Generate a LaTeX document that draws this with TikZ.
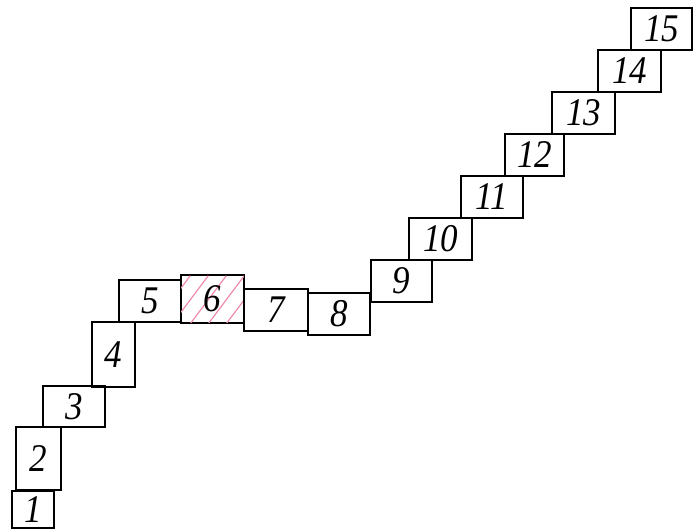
\documentclass[tikz,border=0pt]{standalone}
\usepackage{fontspec}
\setmainfont{Liberation Serif}
\definecolor{hatchpink}{RGB}{238,140,175}
\newcommand{\tallnum}[1]{\scalebox{1}[1.12]{#1}}
\begin{document}
\begin{tikzpicture}[x=1pt,y=-1pt,
  box/.style={draw, line width=1.4pt, inner sep=0pt, font=\fontsize{35}{35}\selectfont\itshape},
  hatch/.style={hatchpink, line width=1.2pt}]
\useasboundingbox (0,0) rectangle (693,531);
\node[box, minimum width=42pt, minimum height=37pt] (b1) at (33,509.5) {\tallnum{1}};
\node[box, minimum width=45pt, minimum height=63pt] (b2) at (38.5,458.5) {\tallnum{2}};
\node[box, minimum width=62pt, minimum height=41pt] (b3) at (74,406.5) {\tallnum{3}};
\node[box, minimum width=43pt, minimum height=65pt] (b4) at (113.5,354.5) {\tallnum{4}};
\node[box, minimum width=62pt, minimum height=42pt] (b5) at (150,301) {\tallnum{5}};
\node[box, minimum width=63pt, minimum height=48pt] (b6) at (212.5,299) {};
\begin{scope}
  \clip (b6.south west) rectangle (b6.north east);
  \foreach \s in {-62,-44,...,80} {
    \draw[hatch] ([xshift=\s pt]b6.south west) -- ++(36,-48);
  }
\end{scope}
\draw[line width=1.4pt] (b6.south west) rectangle (b6.north east);
\node[font=\fontsize{35}{35}\selectfont\itshape, inner sep=0pt] (t6) at (b6.center) {\tallnum{6}};
\node[box, minimum width=64pt, minimum height=42pt] (b7) at (276,310) {\tallnum{7}};
\node[box, minimum width=62pt, minimum height=42pt] (b8) at (339,314) {\tallnum{8}};
\node[box, minimum width=61pt, minimum height=42pt] (b9) at (401.5,281) {\tallnum{9}};
\node[box, minimum width=63pt, minimum height=42pt] (b10) at (440.5,239) {\tallnum{10}};
\node[box, minimum width=62pt, minimum height=42pt] (b11) at (492,197) {\tallnum{11}};
\node[box, minimum width=59pt, minimum height=42pt] (b12) at (534.5,155) {\tallnum{12}};
\node[box, minimum width=63pt, minimum height=42pt] (b13) at (583.5,113) {\tallnum{13}};
\node[box, minimum width=63pt, minimum height=42pt] (b14) at (629.5,71) {\tallnum{14}};
\node[box, minimum width=61pt, minimum height=42pt] (b15) at (661.5,29) {\tallnum{15}};
\end{tikzpicture}
\end{document}
